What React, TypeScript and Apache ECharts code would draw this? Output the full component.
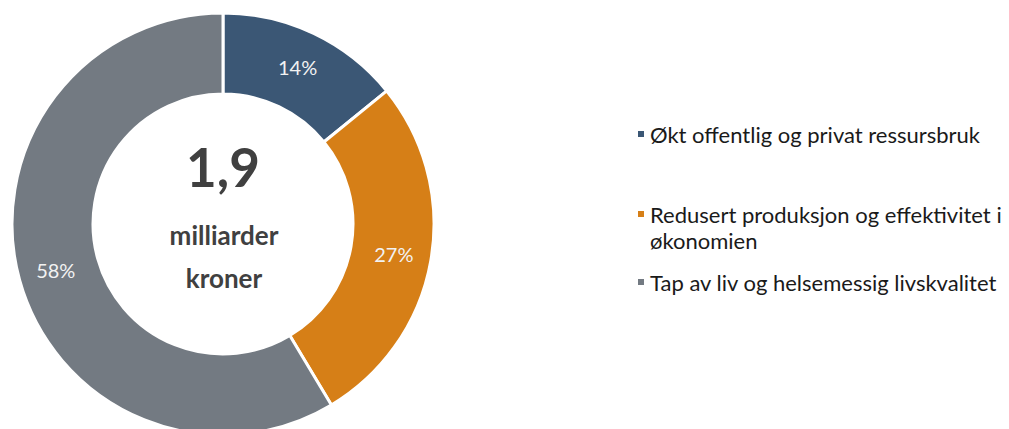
import React, { useEffect, useRef } from "react";
import * as echarts from "echarts";

const categories = [
  "Økt offentlig og privat ressursbruk",
  "Redusert produksjon og effektivitet i\nøkonomien",
  "Tap av liv og helsemessig livskvalitet",
];
const shares = [14, 27, 58];
const colors = ["#3B5775", "#D67F17", "#737A82"];
const totalLabel = "1,9";
const unitLines = ["milliarder", "kroner"];

const FONT = "Lato";

export default function App() {
  const ref = useRef<HTMLDivElement>(null);
  useEffect(() => {
    if (!ref.current) return;
    const chart = echarts.init(ref.current, undefined, { renderer: "svg" });
    const legendTops = [121, 201, 269];
    const lh = 26;
    chart.setOption({
      animation: false,
      color: colors,
      legend: categories.map((name, i) => {
        const multi = name.includes("\n");
        return {
          orient: "vertical",
          left: 636,
          top: legendTops[i],
          data: [name],
          icon: multi ? "path://M0,0h8v8h-8z M0,33.9h0.1v0.1h-0.1z" : "rect",
          itemWidth: 8,
          itemHeight: multi ? 34 : 8,
          itemGap: 0,
          padding: 0,
          selectedMode: false,
          textStyle: {
            fontFamily: FONT,
            fontSize: 22,
            color: "#1a1a1a",
            lineHeight: lh,
          },
        };
      }),
      graphic: [
        {
          type: "text",
          x: 223,
          y: 193,
          style: {
            text: totalLabel,
            fontFamily: FONT,
            fontWeight: "bold",
            fontSize: 53,
            fill: "#404040",
            textAlign: "center",
            textVerticalAlign: "bottom",
          },
          silent: true,
        },
        {
          type: "text",
          x: 224,
          y: 248,
          style: {
            text: unitLines[0],
            fontFamily: FONT,
            fontWeight: "bold",
            fontSize: 26,
            fill: "#404040",
            textAlign: "center",
            textVerticalAlign: "bottom",
          },
          silent: true,
        },
        {
          type: "text",
          x: 224,
          y: 291,
          style: {
            text: unitLines[1],
            fontFamily: FONT,
            fontWeight: "bold",
            fontSize: 26,
            fill: "#404040",
            textAlign: "center",
            textVerticalAlign: "bottom",
          },
          silent: true,
        },
      ],
      series: [
        {
          type: "pie",
          center: [223, 224],
          radius: [130, 211],
          startAngle: 90,
          clockwise: true,
          avoidLabelOverlap: false,
          itemStyle: { borderColor: "#ffffff", borderWidth: 3 },
          label: {
            show: true,
            position: "inside",
            formatter: (p: any) => `${p.value}%`,
            fontFamily: FONT,
            fontSize: 20,
            color: "#F2F2F2",
          },
          labelLine: { show: false },
          emphasis: { disabled: true },
          data: categories.map((name, i) => ({ name, value: shares[i] })),
        },
      ],
    });
    return () => chart.dispose();
  }, []);
  return <div ref={ref} style={{ width: 1009, height: 429, position: "absolute", left: 0, top: 0 }} />;
}
